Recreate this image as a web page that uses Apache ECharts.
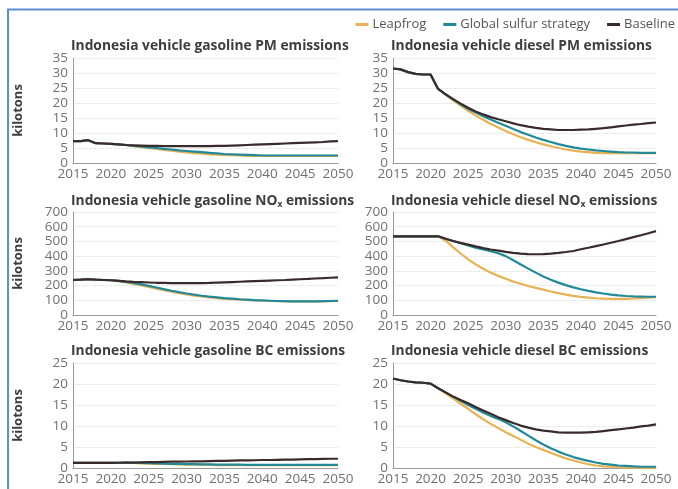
<!DOCTYPE html>
<html>
<head>
<meta charset="utf-8">
<script src="https://cdn.jsdelivr.net/npm/echarts@6/dist/echarts.min.js"></script>
<style>
  html, body { margin: 0; padding: 0; background: #ffffff; }
  #chart { width: 678px; height: 489px; }
</style>
</head>
<body>
<div id="chart"></div>
<script>
// Years on every x axis
const years = [2015, 2016, 2017, 2018, 2019, 2020, 2021, 2022, 2023, 2024,
  2025, 2026, 2027, 2028, 2029, 2030, 2031, 2032, 2033, 2034,
  2035, 2036, 2037, 2038, 2039, 2040, 2041, 2042, 2043, 2044,
  2045, 2046, 2047, 2048, 2049, 2050];

const scenarioNames = ['Leapfrog', 'Global sulfur strategy', 'Baseline'];

// Gasoline PM (kilotons)
const gasPmLeapfrog = [7.3, 7.3, 7.6, 6.6, 6.5, 6.4, 6.2, 6.0, 5.6, 5.3, 5.0, 4.7, 4.4, 4.1, 3.8, 3.5, 3.3, 3.1, 2.9, 2.8, 2.7, 2.6, 2.5, 2.4, 2.4, 2.4, 2.4, 2.4, 2.4, 2.4, 2.4, 2.4, 2.4, 2.4, 2.4, 2.4];
const gasPmGlobal = [7.3, 7.3, 7.6, 6.6, 6.5, 6.4, 6.2, 6.0, 5.7, 5.5, 5.2, 5.0, 4.7, 4.5, 4.2, 4.0, 3.8, 3.6, 3.4, 3.2, 3.0, 2.9, 2.8, 2.7, 2.6, 2.5, 2.5, 2.5, 2.5, 2.5, 2.5, 2.5, 2.5, 2.5, 2.5, 2.5];
const gasPmBaseline = [7.3, 7.3, 7.6, 6.6, 6.5, 6.4, 6.2, 6.0, 5.9, 5.8, 5.7, 5.7, 5.6, 5.6, 5.6, 5.6, 5.6, 5.6, 5.6, 5.7, 5.7, 5.8, 5.9, 6.0, 6.1, 6.2, 6.3, 6.4, 6.5, 6.6, 6.7, 6.8, 6.9, 7.0, 7.2, 7.3];

// Diesel PM (kilotons)
const dslPmLeapfrog = [31.5, 31.2, 30.3, 29.7, 29.5, 29.5, 24.7, 22.8, 20.9, 19.1, 17.4, 15.8, 14.4, 13.0, 11.8, 10.7, 9.6, 8.6, 7.7, 6.9, 6.2, 5.6, 5.0, 4.5, 4.1, 3.8, 3.6, 3.4, 3.3, 3.3, 3.3, 3.3, 3.3, 3.3, 3.3, 3.3];
const dslPmGlobal = [31.5, 31.2, 30.3, 29.7, 29.5, 29.5, 24.7, 22.9, 21.2, 19.6, 18.1, 16.8, 15.6, 14.5, 13.4, 12.4, 11.3, 10.3, 9.4, 8.5, 7.7, 7.0, 6.3, 5.7, 5.2, 4.8, 4.5, 4.2, 4.0, 3.8, 3.6, 3.5, 3.5, 3.4, 3.4, 3.4];
const dslPmBaseline = [31.5, 31.2, 30.3, 29.7, 29.5, 29.5, 24.7, 22.9, 21.3, 19.8, 18.4, 17.2, 16.2, 15.3, 14.6, 13.9, 13.2, 12.6, 12.1, 11.7, 11.4, 11.2, 11.0, 11.0, 11.0, 11.1, 11.2, 11.4, 11.6, 11.9, 12.2, 12.5, 12.8, 13.0, 13.3, 13.5];

// Gasoline NOx (kilotons)
const gasNoxLeapfrog = [238, 240, 243, 240, 238, 236, 232, 222, 212, 201, 190, 179, 168, 158, 149, 140, 132, 126, 120, 115, 110, 107, 104, 101, 99, 97, 95, 94, 93, 92, 92, 92, 93, 93, 94, 95];
const gasNoxGlobal = [238, 240, 243, 240, 238, 236, 232, 225, 218, 208, 198, 187, 176, 165, 155, 146, 138, 131, 125, 120, 115, 111, 107, 104, 101, 99, 97, 95, 94, 93, 93, 93, 93, 94, 95, 96];
const gasNoxBaseline = [238, 240, 243, 240, 238, 236, 232, 228, 225, 223, 221, 219, 218, 217, 216, 216, 216, 217, 218, 220, 222, 224, 226, 228, 230, 232, 234, 236, 238, 241, 243, 245, 248, 250, 253, 256];

// Diesel NOx (kilotons)
const dslNoxLeapfrog = [535, 535, 535, 535, 535, 535, 535, 505, 460, 418, 378, 344, 314, 288, 266, 246, 228, 212, 197, 184, 172, 160, 149, 139, 130, 123, 118, 114, 111, 110, 109, 110, 112, 115, 118, 121];
const dslNoxGlobal = [535, 535, 535, 535, 535, 535, 535, 518, 503, 488, 472, 458, 446, 433, 420, 400, 372, 343, 315, 288, 262, 240, 220, 203, 188, 175, 164, 154, 146, 139, 133, 129, 126, 125, 124, 124];
const dslNoxBaseline = [535, 535, 535, 535, 535, 535, 535, 518, 503, 490, 478, 466, 455, 445, 437, 429, 422, 417, 414, 413, 414, 417, 422, 428, 435, 447, 457, 468, 479, 491, 503, 516, 529, 542, 556, 570];

// Gasoline BC (kilotons)
const gasBcLeapfrog = [1.2, 1.2, 1.2, 1.2, 1.2, 1.2, 1.25, 1.3, 1.2, 1.1, 1.05, 1.0, 0.95, 0.9, 0.85, 0.8, 0.8, 0.75, 0.75, 0.7, 0.7, 0.7, 0.65, 0.65, 0.65, 0.65, 0.65, 0.65, 0.65, 0.65, 0.65, 0.65, 0.65, 0.65, 0.65, 0.65];
const gasBcGlobal = [1.2, 1.2, 1.2, 1.2, 1.2, 1.2, 1.25, 1.3, 1.25, 1.2, 1.15, 1.1, 1.05, 1.0, 0.95, 0.9, 0.9, 0.85, 0.85, 0.8, 0.8, 0.8, 0.8, 0.75, 0.75, 0.75, 0.75, 0.75, 0.75, 0.75, 0.75, 0.75, 0.75, 0.75, 0.75, 0.75];
const gasBcBaseline = [1.2, 1.2, 1.2, 1.2, 1.2, 1.2, 1.25, 1.3, 1.3, 1.35, 1.4, 1.4, 1.45, 1.5, 1.5, 1.55, 1.6, 1.6, 1.65, 1.7, 1.7, 1.75, 1.8, 1.8, 1.85, 1.9, 1.9, 1.95, 2.0, 2.0, 2.05, 2.1, 2.1, 2.15, 2.2, 2.2];

// Diesel BC (kilotons)
const dslBcLeapfrog = [21.3, 20.9, 20.6, 20.4, 20.3, 20.1, 19.0, 17.8, 16.6, 15.3, 14.1, 12.8, 11.6, 10.5, 9.5, 8.5, 7.6, 6.7, 5.8, 5.0, 4.3, 3.6, 2.9, 2.3, 1.8, 1.3, 0.9, 0.6, 0.4, 0.3, 0.2, 0.15, 0.1, 0.1, 0.1, 0.1];
const dslBcGlobal = [21.3, 20.9, 20.6, 20.4, 20.3, 20.1, 19.0, 18.0, 17.0, 16.0, 15.0, 14.1, 13.2, 12.4, 11.7, 10.9, 9.9, 8.8, 7.7, 6.6, 5.6, 4.7, 3.9, 3.2, 2.6, 2.1, 1.7, 1.3, 1.0, 0.8, 0.6, 0.5, 0.4, 0.3, 0.3, 0.3];
const dslBcBaseline = [21.3, 20.9, 20.6, 20.4, 20.3, 20.1, 19.0, 18.0, 17.0, 16.2, 15.4, 14.5, 13.7, 12.9, 12.1, 11.4, 10.7, 10.1, 9.6, 9.2, 8.9, 8.7, 8.5, 8.4, 8.4, 8.4, 8.5, 8.6, 8.8, 9.0, 9.2, 9.4, 9.6, 9.9, 10.1, 10.4];

// Panel titles and y-axis ranges
const panelTitles = [
  '{t|Indonesia vehicle gasoline PM emissions}',
  '{t|Indonesia vehicle diesel PM emissions}',
  '{t|Indonesia vehicle gasoline NO}{s|x}{t| emissions}',
  '{t|Indonesia vehicle diesel NO}{s|x}{t| emissions}',
  '{t|Indonesia vehicle gasoline BC emissions}',
  '{t|Indonesia vehicle diesel BC emissions}'
];
const yMaxes = [35, 35, 700, 700, 25, 25];
const yIntervals = [5, 5, 100, 100, 5, 5];
const panelData = [
  [gasPmLeapfrog, gasPmGlobal, gasPmBaseline],
  [dslPmLeapfrog, dslPmGlobal, dslPmBaseline],
  [gasNoxLeapfrog, gasNoxGlobal, gasNoxBaseline],
  [dslNoxLeapfrog, dslNoxGlobal, dslNoxBaseline],
  [gasBcLeapfrog, gasBcGlobal, gasBcBaseline],
  [dslBcLeapfrog, dslBcGlobal, dslBcBaseline]
];

// Layout
const FONT = '"Open Sans", "DejaVu Sans", sans-serif';
const lineColors = ['#e8b252', '#21899a', '#3b2a2b'];
const colLeft = [73, 393];
const colWidth = [265, 263];
const rowTop = [58, 212, 363];
const rowHeight = [105, 103, 105];

const grids = [], xAxes = [], yAxes = [], titles = [], series = [];

for (let i = 0; i < 6; i++) {
  const col = i % 2, row = Math.floor(i / 2);
  grids.push({ left: colLeft[col], top: rowTop[row], width: colWidth[col], height: rowHeight[row] });
  titles.push({
    text: panelTitles[i],
    left: colLeft[col] - 2,
    top: rowTop[row] - 19,
    padding: 0,
    textStyle: {
      rich: {
        t: { fontFamily: FONT, fontSize: 13.8, fontWeight: 'bold', color: '#3d3d3d' },
        s: { fontFamily: FONT, fontSize: 8.5, fontWeight: 'bold', color: '#3d3d3d', padding: [7, 0, 0, 0] }
      }
    }
  });
  xAxes.push({
    type: 'value', gridIndex: i, min: 2015, max: 2050, interval: 5,
    axisLine: { show: true, lineStyle: { color: '#9a9a9a', width: 1 } },
    axisTick: { show: false },
    splitLine: { show: false },
    axisLabel: { color: '#707070', fontFamily: FONT, fontSize: 13.5, margin: 4, formatter: v => String(v) }
  });
  yAxes.push({
    type: 'value', gridIndex: i, min: 0, max: yMaxes[i], interval: yIntervals[i],
    name: col === 0 ? 'kilotons' : '',
    nameLocation: 'middle',
    nameGap: 48,
    nameTextStyle: { fontFamily: FONT, fontSize: 13, fontWeight: 'bold', color: '#3d3d3d' },
    axisLine: { show: true, lineStyle: { color: '#9a9a9a', width: 1 } },
    axisTick: { show: false },
    splitLine: { show: true, lineStyle: { color: '#dcdcdc', type: 'dotted', width: 1 } },
    axisLabel: { color: '#707070', fontFamily: FONT, fontSize: 13.5, margin: 5 }
  });
  for (let s = 0; s < 3; s++) {
    series.push({
      name: scenarioNames[s],
      type: 'line',
      xAxisIndex: i, yAxisIndex: i,
      data: years.map((y, k) => [y, panelData[i][s][k]]),
      showSymbol: false,
      symbol: 'none',
      lineStyle: { color: lineColors[s], width: 2.2 },
      itemStyle: { color: lineColors[s] },
      z: 2 + s,
      animation: false
    });
  }
}

const chart = echarts.init(document.getElementById('chart'), null, { renderer: 'canvas' });
chart.setOption({
  backgroundColor: '#ffffff',
  animation: false,
  title: titles,
  legend: {
    data: scenarioNames,
    right: 3,
    top: 18,
    padding: 0,
    itemWidth: 13,
    itemHeight: 3,
    itemGap: 17,
    icon: 'rect',
    textStyle: { fontFamily: FONT, fontSize: 13, color: '#555555', padding: [0, 0, 0, -1] }
  },
  graphic: [{
    type: 'rect',
    shape: { x: 8, y: 9.5, width: 720, height: 520 },
    style: { fill: 'none', stroke: '#5b8fd2', lineWidth: 2 },
    silent: true
  }],
  grid: grids,
  xAxis: xAxes,
  yAxis: yAxes,
  series: series
});
</script>
</body>
</html>
